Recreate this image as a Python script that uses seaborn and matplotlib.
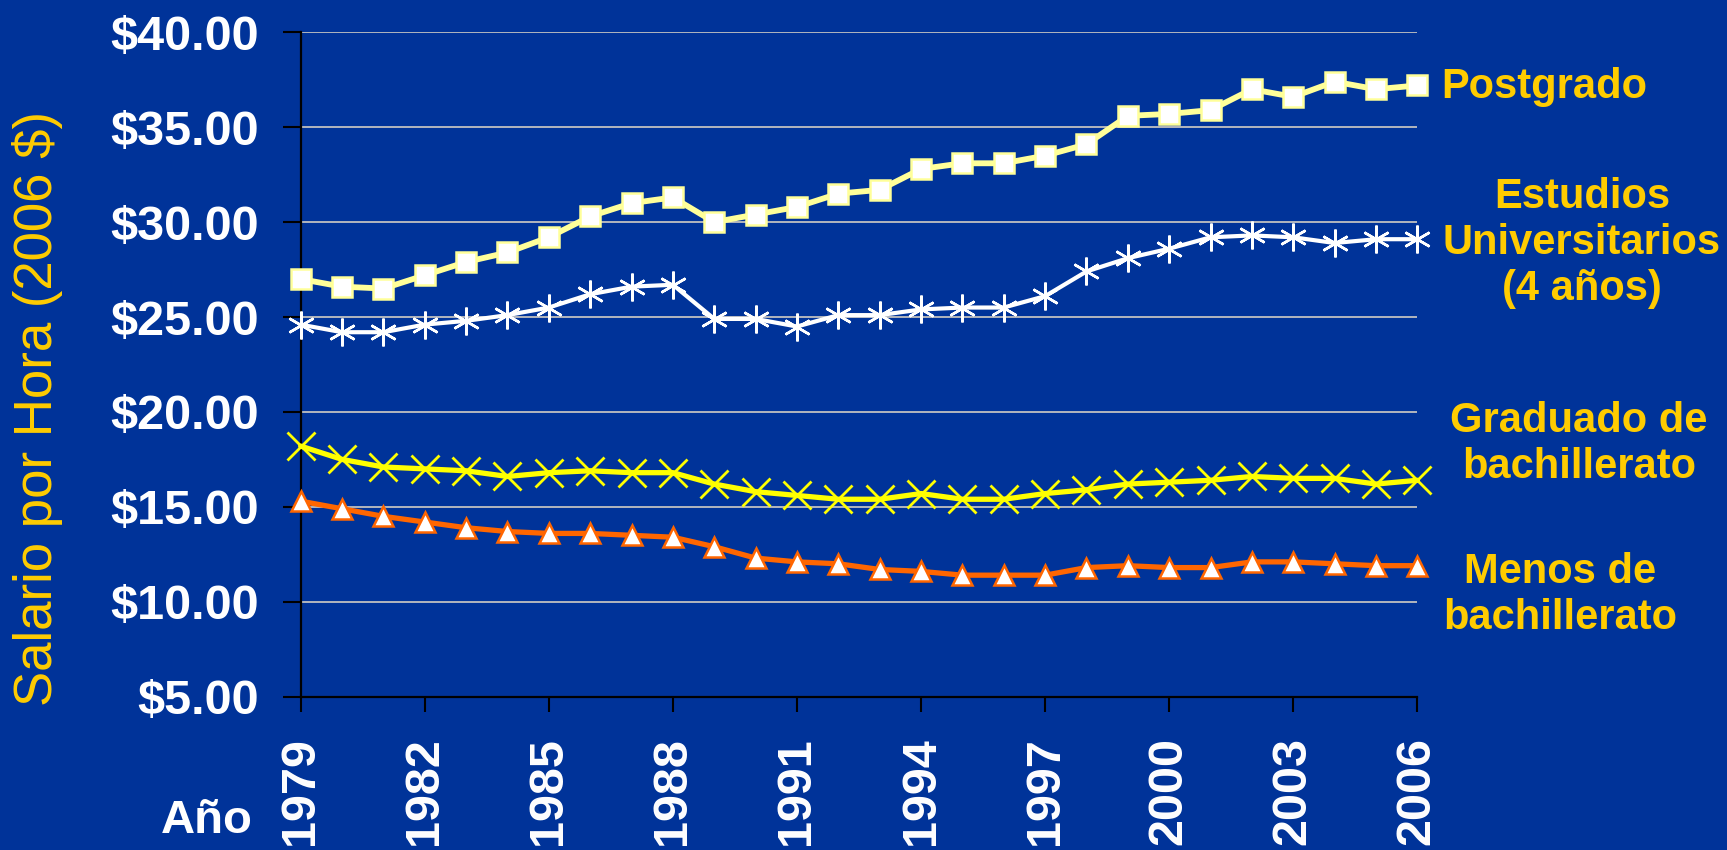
import matplotlib
matplotlib.use("Agg")
import matplotlib.pyplot as plt
import seaborn as sns
import pandas as pd

# Datos (salario por hora en dólares de 2006)
anios = list(range(1979, 2007))
postgrado = [27.0, 26.6, 26.5, 27.2, 27.9, 28.4, 29.2, 30.3, 31.0, 31.3, 30.0, 30.4, 30.8, 31.5,
             31.7, 32.8, 33.1, 33.1, 33.5, 34.1, 35.6, 35.7, 35.9, 37.0, 36.6, 37.4, 37.0, 37.2]
universitarios = [24.6, 24.2, 24.2, 24.6, 24.8, 25.1, 25.5, 26.2, 26.6, 26.7, 24.9, 24.9, 24.5, 25.1,
                  25.1, 25.4, 25.5, 25.5, 26.1, 27.4, 28.1, 28.6, 29.2, 29.3, 29.2, 28.9, 29.1, 29.1]
graduado = [18.2, 17.5, 17.1, 17.0, 16.9, 16.6, 16.8, 16.9, 16.8, 16.8, 16.2, 15.8, 15.6, 15.4,
            15.4, 15.7, 15.4, 15.4, 15.7, 15.9, 16.2, 16.3, 16.4, 16.6, 16.5, 16.5, 16.2, 16.4]
menos = [15.3, 14.9, 14.5, 14.2, 13.9, 13.7, 13.6, 13.6, 13.5, 13.4, 12.9, 12.3, 12.1, 12.0,
         11.7, 11.6, 11.4, 11.4, 11.4, 11.8, 11.9, 11.8, 11.8, 12.1, 12.1, 12.0, 11.9, 11.9]

y_ticks = [5, 10, 15, 20, 25, 30, 35, 40]
x_ticks = list(range(1979, 2007, 3))

df = pd.DataFrame({'Ano': anios, 'Postgrado': postgrado, 'Universitarios': universitarios,
                   'Graduado': graduado, 'Menos': menos})

fondo = '#003399'
dorado = '#FFCC00'

sns.set_style("white")
plt.rcParams['font.family'] = ['Liberation Sans', 'DejaVu Sans']

fig = plt.figure(figsize=(17.27, 8.5), dpi=100, facecolor=fondo)
ax = fig.add_axes([0.1741, 0.1804, 0.6466, 0.7816])
ax.set_facecolor(fondo)

# Estilos de cada serie
estilos = {
    'Postgrado': dict(color='#FFFF99', linewidth=4.2, marker='s', markersize=14,
                      markerfacecolor='white', markeredgecolor='#FFFF99', markeredgewidth=1.8),
    'Universitarios': dict(color='white', linewidth=3.0, marker=(6, 2, 0), markersize=20,
                           markerfacecolor='white', markeredgecolor='white', markeredgewidth=1.8),
    'Graduado': dict(color='#FFFF00', linewidth=3.8, marker='x', markersize=20,
                     markeredgecolor='#FFFF00', markeredgewidth=2.0),
    'Menos': dict(color='#FF6600', linewidth=3.8, marker='^', markersize=15,
                  markerfacecolor='white', markeredgecolor='#FF6600', markeredgewidth=1.8),
}

for serie, kw in estilos.items():
    sns.lineplot(data=df, x='Ano', y=serie, ax=ax, clip_on=False, zorder=3, **kw)

ax.set_xlim(1979, 2006)
ax.set_ylim(5, 40)
ax.set_yticks(y_ticks)
ax.set_yticklabels([f'${v:.2f}' for v in y_ticks])
ax.set_xticks(x_ticks)
ax.set_xticklabels([str(a) for a in x_ticks], rotation=90)

ax.grid(axis='y', color='#C0C0C0', linewidth=1.3)
ax.grid(axis='x', visible=False)
ax.set_axisbelow(True)

for lado in ['top', 'right']:
    ax.spines[lado].set_visible(False)
for lado in ['left', 'bottom']:
    ax.spines[lado].set_color('black')
    ax.spines[lado].set_linewidth(1.6)

ax.tick_params(axis='y', direction='out', length=13, width=1.5, color='black', pad=17,
               labelsize=35, labelcolor='white', left=True)
ax.tick_params(axis='x', direction='out', length=11, width=1.5, color='black', pad=18,
               labelsize=35, labelcolor='white', bottom=True)
for etiqueta in ax.get_yticklabels() + ax.get_xticklabels():
    etiqueta.set_fontweight('bold')

ax.set_xlabel('')
ax.set_ylabel('')

# Título del eje Y y etiqueta "Año"
fig.text(38 / 1727, 1 - 408 / 850, 'Salario por Hora (2006 $)', rotation=90, ha='center', va='center',
         fontsize=38, color=dorado, fontweight='medium')
fig.text(253 / 1727, 1 - 833 / 850, 'Año', ha='right', va='baseline', fontsize=34,
         fontweight='bold', color='white')

# Etiquetas de las series a la derecha
fig.text(1441 / 1727, 1 - 87 / 850, 'Postgrado', ha='left', va='center', fontsize=30,
         fontweight='bold', color=dorado)
fig.text(1582 / 1727, 1 - 243 / 850, 'Estudios\nUniversitarios\n(4 años)', ha='center', va='center',
         multialignment='center', fontsize=30, fontweight='bold', color=dorado, linespacing=1.2)
fig.text(1579 / 1727, 1 - 444 / 850, 'Graduado de\nbachillerato', ha='center', va='center',
         multialignment='center', fontsize=30, fontweight='bold', color=dorado, linespacing=1.2)
fig.text(1560 / 1727, 1 - 595 / 850, 'Menos de\nbachillerato', ha='center', va='center',
         multialignment='center', fontsize=30, fontweight='bold', color=dorado, linespacing=1.2)

fig.savefig('out.png', dpi=100, facecolor=fondo)
